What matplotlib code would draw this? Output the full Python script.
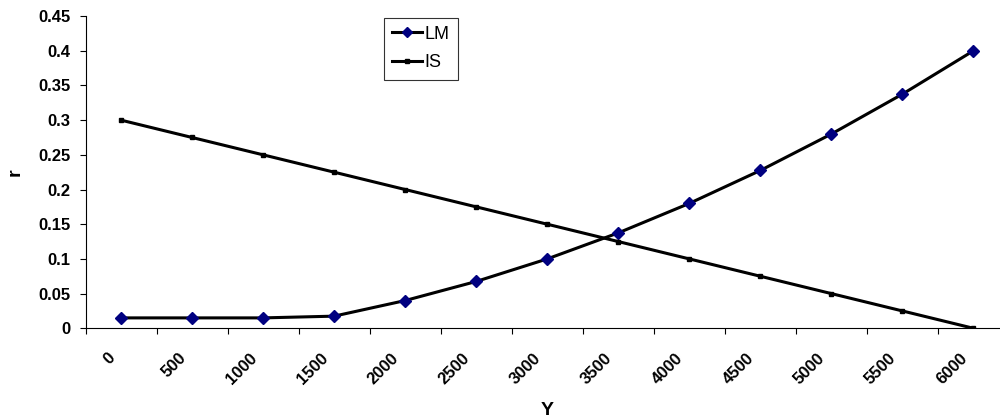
import numpy as np
import matplotlib
matplotlib.use("Agg")
import matplotlib.pyplot as plt
import matplotlib.transforms as mtransforms
from matplotlib.ticker import FixedLocator, FuncFormatter

plt.rcParams["font.family"] = ["Liberation Sans", "DejaVu Sans"]

y_cats = ["0", "500", "1000", "1500", "2000", "2500", "3000",
          "3500", "4000", "4500", "5000", "5500", "6000"]
lm = [0.015, 0.015, 0.015, 0.0175, 0.04, 0.0675, 0.1,
      0.1375, 0.18, 0.2275, 0.28, 0.3375, 0.4]
is_curve = [0.3, 0.275, 0.25, 0.225, 0.2, 0.175, 0.15,
            0.125, 0.1, 0.075, 0.05, 0.025, 0.0]
r_ticks = [0, 0.05, 0.1, 0.15, 0.2, 0.25, 0.3, 0.35, 0.4, 0.45]

fig = plt.figure(figsize=(10, 4.18), dpi=100)
ax = fig.add_axes([0.0855, 0.2146, 0.9235, 0.747])

x = np.arange(len(y_cats))
ax.plot(x, lm, color="black", lw=2.2, marker="D", ms=6.5,
        mfc="#000080", mec="#000080", label="LM", zorder=3)
ax.plot(x, is_curve, color="black", lw=2.2, marker="s", ms=2.8,
        mfc="black", mec="black", label="IS", zorder=3)

ax.set_xlim(-0.5, len(y_cats) - 0.5)
ax.set_ylim(0, 0.45)

# category labels, rotated like excel does it
ax.set_xticks(x)
ax.tick_params(axis="x", which="major", length=0, labelbottom=False)
ax.xaxis.set_minor_locator(FixedLocator(np.arange(-0.5, len(y_cats), 1)))
ax.tick_params(axis="x", which="minor", length=4, width=0.8, direction="out")
off = mtransforms.ScaledTranslation(-0.14, -0.22, fig.dpi_scale_trans)
for xi, lab in zip(x, y_cats):
    ax.text(xi, 0, lab, transform=ax.get_xaxis_transform() + off,
            rotation=45, ha="right", va="top", rotation_mode="anchor",
            fontsize=12, fontweight="bold")

ax.set_yticks(r_ticks)
ax.yaxis.set_major_formatter(FuncFormatter(lambda v, p: ("%g" % round(v, 2))))
ax.tick_params(axis="y", length=4, width=0.8, direction="out", pad=7)
for lbl in ax.get_yticklabels():
    lbl.set_fontsize(12)
    lbl.set_fontweight("bold")

for s in ["top", "right"]:
    ax.spines[s].set_visible(False)
for s in ["left", "bottom"]:
    ax.spines[s].set_linewidth(0.8)

ax.set_ylabel("r", fontsize=14, fontweight="bold")
ax.yaxis.set_label_coords(-0.067, 0.5)
ax.set_xlabel("Y", fontsize=14, fontweight="bold")
ax.xaxis.set_label_coords(0.5, -0.235)

leg = ax.legend(loc="upper left", bbox_to_anchor=(0.323, 0.995), fontsize=13,
                frameon=True, fancybox=False, edgecolor="black",
                handlelength=1.65, handletextpad=0.15, borderpad=0.45,
                labelspacing=0.65, borderaxespad=0)
leg.get_frame().set_linewidth(0.8)
leg.legend_handles[0].set_markersize(5)
leg.legend_handles[1].set_markersize(2.8)

fig.savefig("out.png", dpi=100)
